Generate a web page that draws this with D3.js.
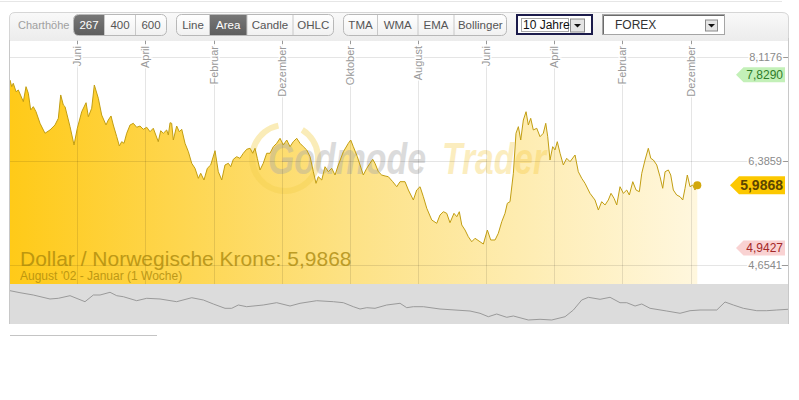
<!DOCTYPE html>
<html><head><meta charset="utf-8">
<script src="https://cdn.jsdelivr.net/npm/d3@7"></script>
<style>
body{margin:0;background:#fff;}
svg{display:block;font-family:"Liberation Sans",Arial,sans-serif;}
</style>
</head><body>
<svg id="c" width="799" height="400"></svg>
<script>
// ---- data ----
const years = [2002.594,2002.615,2002.634,2002.668,2002.696,2002.757,2002.790,2002.818,2002.847,2002.879,2002.912,2002.961,2003.022,2003.083,2003.144,2003.185,2003.214,2003.246,2003.267,2003.328,2003.377,2003.417,2003.471,2003.524,2003.552,2003.593,2003.625,2003.674,2003.715,2003.768,2003.796,2003.829,2003.857,2003.899,2003.931,2003.960,2003.988,2004.021,2004.062,2004.102,2004.143,2004.184,2004.224,2004.266,2004.306,2004.346,2004.407,2004.437,2004.469,2004.510,2004.530,2004.551,2004.571,2004.591,2004.632,2004.664,2004.694,2004.734,2004.775,2004.816,2004.856,2004.897,2004.926,2004.966,2005.007,2005.048,2005.101,2005.141,2005.183,2005.223,2005.264,2005.293,2005.325,2005.366,2005.406,2005.447,2005.488,2005.529,2005.562,2005.590,2005.618,2005.651,2005.691,2005.733,2005.773,2005.814,2005.855,2005.896,2005.936,2005.978,2006.018,2006.058,2006.100,2006.140,2006.181,2006.222,2006.263,2006.303,2006.336,2006.364,2006.406,2006.446,2006.486,2006.528,2006.568,2006.609,2006.670,2006.731,2006.760,2006.792,2006.841,2006.874,2006.914,2006.956,2006.996,2007.029,2007.057,2007.098,2007.139,2007.180,2007.220,2007.274,2007.323,2007.363,2007.424,2007.465,2007.526,2007.567,2007.608,2007.648,2007.690,2007.751,2007.812,2007.852,2007.893,2007.934,2007.974,2008.023,2008.057,2008.088,2008.118,2008.158,2008.198,2008.240,2008.280,2008.341,2008.382,2008.431,2008.472,2008.525,2008.565,2008.607,2008.647,2008.675,2008.708,2008.749,2008.781,2008.810,2008.839,2008.871,2008.904,2008.932,2008.961,2008.993,2009.035,2009.075,2009.115,2009.145,2009.169,2009.197,2009.230,2009.258,2009.286,2009.320,2009.360,2009.401,2009.442,2009.503,2009.543,2009.585,2009.625,2009.686,2009.747,2009.788,2009.829,2009.870,2009.910,2009.943,2009.980,2010.013,2010.053,2010.094,2010.135,2010.167,2010.209,2010.249,2010.289,2010.319,2010.359,2010.399,2010.429,2010.461,2010.502,2010.542,2010.575,2010.604,2010.644,2010.673,2010.705,2010.746,2010.787,2010.820,2010.848,2010.876,2010.909,2010.942,2010.970,2010.991,2010.998];
const rates = [7.740,7.629,7.685,7.545,7.574,7.379,7.629,7.519,7.241,7.296,7.212,7.019,6.853,6.908,6.991,7.102,7.491,7.324,7.296,6.963,6.658,6.936,7.212,7.362,7.129,7.269,7.657,7.436,7.157,6.991,7.074,7.141,6.991,6.796,6.641,6.713,6.686,6.853,6.991,7.019,6.953,6.974,6.919,6.953,6.879,6.936,6.713,6.896,6.853,6.908,6.824,7.029,7.019,6.741,6.974,6.879,6.919,6.686,6.546,6.353,6.270,6.103,6.187,6.075,6.270,6.325,6.563,6.213,6.075,6.325,6.353,6.296,6.420,6.463,6.436,6.520,6.586,6.603,6.520,6.603,6.436,6.242,6.353,6.520,6.520,6.630,6.686,6.769,6.658,6.741,6.630,6.713,6.769,6.686,6.630,6.575,6.463,6.213,6.020,6.130,6.075,6.296,6.213,6.270,6.158,6.325,6.546,6.686,6.741,6.630,6.463,6.325,6.158,6.270,6.353,6.420,6.353,6.213,6.158,6.142,6.130,6.047,5.963,6.047,6.047,5.908,5.742,5.908,5.963,5.797,5.604,5.409,5.354,5.492,5.547,5.520,5.364,5.520,5.464,5.547,5.326,5.242,5.131,5.047,5.104,5.047,5.009,5.242,5.076,5.076,5.187,5.381,5.520,5.687,5.714,6.187,6.853,6.963,6.741,7.074,7.212,6.991,7.102,6.908,6.936,6.796,6.853,7.019,6.796,6.408,6.630,6.575,6.713,6.520,6.325,6.436,6.380,6.491,6.213,6.103,6.020,5.853,5.742,5.575,5.714,5.659,5.742,5.853,5.770,5.659,5.963,5.853,5.908,5.825,6.047,5.908,5.880,6.187,6.408,6.603,6.436,6.408,6.325,6.130,5.937,6.213,6.242,6.158,5.908,5.825,5.797,5.742,5.937,6.158,5.963,5.992,5.908,5.992,5.9868];

const navYears = [2002.594,2002.716,2002.879,2003.083,2003.185,2003.328,2003.511,2003.613,2003.695,2003.817,2003.899,2003.980,2004.143,2004.266,2004.428,2004.632,2004.816,2004.958,2005.080,2005.223,2005.305,2005.386,2005.488,2005.691,2005.855,2006.018,2006.140,2006.344,2006.548,2006.670,2006.792,2006.874,2006.956,2007.057,2007.200,2007.363,2007.445,2007.526,2007.648,2007.852,2008.219,2008.341,2008.443,2008.545,2008.668,2008.749,2008.932,2009.075,2009.218,2009.381,2009.483,2009.585,2009.666,2009.809,2009.931,2010.053,2010.135,2010.237,2010.319,2010.420,2010.624,2010.787,2010.909,2011.032,2011.236,2011.337,2011.439,2011.561,2011.725,2011.847,2011.969,2012.107];
const navRates = [7.822,7.616,7.379,6.968,7.040,7.307,6.690,7.379,7.379,7.657,7.307,7.204,6.793,7.040,6.968,6.690,7.101,6.865,6.453,6.010,6.010,6.350,6.175,6.350,6.587,6.247,6.525,6.793,6.690,6.587,6.175,5.938,6.072,6.010,6.350,6.525,6.072,6.175,6.175,5.938,5.732,5.496,5.145,5.423,5.084,5.218,4.806,4.878,4.806,5.145,5.835,6.865,7.143,6.937,7.143,6.587,6.587,6.247,6.453,6.010,5.732,5.496,5.763,5.835,5.835,6.659,6.350,6.010,5.763,5.763,5.835,5.907];

const tickMonths = ["2003-06","2004-04","2005-02","2005-12","2006-10","2007-08","2008-06","2009-04","2010-02","2010-12"];
const tickLabels = ["Juni","April","Februar","Dezember","Oktober","August","Juni","April","Februar","Dezember"];
const yTickValues = [8.1176, 6.3859, 4.6541];
const highValue = 7.8290, lastValue = 5.9868, lowValue = 4.9427;
const domainStart = 2002.594, domainEnd = 2012.107;
const titleText = "Dollar / Norwegische Krone: ";
const subtitleText = "August '02 - Januar (1 Woche)";
const heightOptions = ["267","400","600"];
const typeOptions = ["Line","Area","Candle","OHLC"];
const indicatorOptions = ["TMA","WMA","EMA","Bollinger"];
const periodOption = "10 Jahre";
const marketOption = "FOREX";

// ---- setup ----
const svg = d3.select("#c");
const fmt = d3.formatLocale({decimal:",",thousands:".",grouping:[3],currency:["","€"]}).format(".4f");
const L = 10, R = 788, T = 40, B = 284;
const x = d3.scaleLinear().domain([domainStart, domainEnd]).range([L, R]);
const y = d3.scaleLinear().domain([4.6541, 8.1176]).range([265.33, 57.33]);
const yNav = d3.scaleLinear().domain([4.6, 8.1]).range([322, 288]);
const monthToYear = s => { const [a,b] = s.split("-").map(Number); return a + (b-1)/12; };
const data = years.map((t,i)=>({t, v:rates[i]}));
const nav = navYears.map((t,i)=>({t, v:navRates[i]}));

const defs = svg.append("defs");
const g1 = defs.append("linearGradient").attr("id","areaGrad").attr("gradientUnits","userSpaceOnUse")
  .attr("x1",x(years[0])).attr("x2",x(years[years.length-1])).attr("y1",0).attr("y2",0);
g1.append("stop").attr("offset",0).attr("stop-color","#ffca18");
g1.append("stop").attr("offset",0.5).attr("stop-color","#fde286");
g1.append("stop").attr("offset",1).attr("stop-color","#fff7de");
const g2 = defs.append("linearGradient").attr("id","barGrad").attr("x1",0).attr("x2",0).attr("y1",0).attr("y2",1);
g2.append("stop").attr("offset",0).attr("stop-color","#f9f9f9");
g2.append("stop").attr("offset",1).attr("stop-color","#ececec");
const g3 = defs.append("linearGradient").attr("id","btnGrad").attr("x1",0).attr("x2",0).attr("y1",0).attr("y2",1);
g3.append("stop").attr("offset",0).attr("stop-color","#ffffff");
g3.append("stop").attr("offset",1).attr("stop-color","#f1f1f1");
const g4 = defs.append("linearGradient").attr("id","selGrad").attr("x1",0).attr("x2",0).attr("y1",0).attr("y2",1);
g4.append("stop").attr("offset",0).attr("stop-color","#777");
g4.append("stop").attr("offset",1).attr("stop-color","#5e5e5e");

// top faint line
svg.append("line").attr("x1",0).attr("x2",782).attr("y1",1.5).attr("y2",1.5).attr("stroke","#e6e6e6");

// toolbar panel
svg.append("path").attr("d",`M${L-0.5},41 V18 Q${L-0.5},12.5 ${L+5},12.5 H${R-6} Q${R+0.5},12.5 ${R+0.5},18 V41`)
  .attr("fill","url(#barGrad)").attr("stroke","#d6d6d6");
svg.append("text").attr("x",18).attr("y",29).attr("font-size",11).attr("fill","#a0a0a0").text("Charthöhe");

function buttonGroup(labels, widths, x0, selected){
  const total = d3.sum(widths);
  const g = svg.append("g");
  g.append("rect").attr("x",x0+0.5).attr("y",14.5).attr("width",total).attr("height",21).attr("rx",5)
    .attr("fill","url(#btnGrad)").attr("stroke","#b8b8b8");
  let cx = x0;
  labels.forEach((lab,i)=>{
    const w = widths[i];
    if(i===selected){
      const isFirst = i===0;
      g.append("path").attr("d",
        isFirst ? `M${cx+0.5+5},15 H${cx+w} V35 H${cx+0.5+5} Q${cx+1},35 ${cx+1},30 V20 Q${cx+1},15 ${cx+6},15 Z`
                : `M${cx+0.5},15 H${cx+w+0.5} V35 H${cx+0.5} Z`)
        .attr("fill","url(#selGrad)");
    }
    if(i>0) g.append("line").attr("x1",cx+0.5).attr("x2",cx+0.5).attr("y1",15).attr("y2",35).attr("stroke","#c8c8c8");
    g.append("text").attr("x",cx+w/2+0.5).attr("y",29).attr("text-anchor","middle").attr("font-size",11.5)
      .attr("fill", i===selected ? "#fff" : "#555").text(lab);
    cx += w;
  });
}
buttonGroup(heightOptions,[31,31,31],73,0);
buttonGroup(typeOptions,[33,37.5,46,40.5],176,1);
buttonGroup(indicatorOptions,[34,40.5,36,52.5],343,-1);

// period select (focused)
svg.append("rect").attr("x",517).attr("y",15).attr("width",75).attr("height",19).attr("fill","#fff").attr("stroke","#1c1c4c").attr("stroke-width",2);
svg.append("rect").attr("x",521.5).attr("y",18.5).attr("width",47).attr("height",13).attr("fill","none").attr("stroke","#555").attr("stroke-dasharray","1,1");
svg.append("text").attr("x",523).attr("y",29).attr("font-size",12).attr("fill","#111").text(periodOption);
function arrowBtn(bx,by,w,h){
  svg.append("rect").attr("x",bx+0.5).attr("y",by+0.5).attr("width",w).attr("height",h).attr("fill","#e4e4e4").attr("stroke","#8a8a8a");
  const cx = bx + w/2 + 0.5, cy = by + h/2 + 0.5;
  svg.append("path").attr("d",`M${cx-3.5},${cy-1.5} H${cx+3.5} L${cx},${cy+2} Z`).attr("fill","#111");
}
arrowBtn(570,18.5,14,13);
// market select
svg.append("rect").attr("x",602.5).attr("y",14.5).attr("width",122).attr("height",20).attr("fill","#fff").attr("stroke","#a5a5a5");
svg.append("path").attr("d","M603.5,34 V15.5 H724").attr("fill","none").attr("stroke","#6b6b6b");
svg.append("text").attr("x",615).attr("y",29).attr("font-size",12).attr("fill","#333").text(marketOption);
arrowBtn(705,19.5,12,11);

// plot background
svg.append("rect").attr("x",L).attr("y",T+1).attr("width",R-L).attr("height",B-T-1).attr("fill","#fff");

// area
const area = d3.area().x(d=>x(d.t)).y0(B).y1(d=>y(d.v));
const line = d3.line().x(d=>x(d.t)).y(d=>y(d.v));
svg.append("path").datum(data).attr("d",area).attr("fill","url(#areaGrad)");

// watermark (horizontally condensed via scale so boxes match the drawn glyphs)
const wm = svg.append("g");
wm.append("path").attr("d", d3.arc().innerRadius(30).outerRadius(36).startAngle(0.55).endAngle(2*Math.PI-0.2)())
  .attr("transform","translate(285,158)").attr("fill","#f3cf4e").attr("opacity",0.4);
function wmText(str, x0, targetW, fill, op){
  const t = wm.append("text").attr("x",0).attr("y",0).attr("font-size",44).attr("font-weight","bold")
    .attr("font-style","italic").attr("fill",fill).attr("opacity",op).text(str);
  const w = t.node().getComputedTextLength();
  t.attr("transform",`translate(${x0},174) scale(${targetW/w},1)`);
}
wmText("Godmode",268,158,"#a8a8a8",0.4);
wmText("Trader",442,104,"#f5c430",0.3);

// gridlines (over area)
const grid = svg.append("g");
tickMonths.forEach(m=>{
  const gx = Math.round(x(monthToYear(m)))+0.5;
  grid.append("line").attr("x1",gx).attr("x2",gx).attr("y1",T).attr("y2",B).attr("stroke","#000").attr("stroke-opacity",0.1);
});
yTickValues.forEach(v=>{
  const gy = Math.round(y(v))+0.5;
  grid.append("line").attr("x1",L).attr("x2",R-6).attr("y1",gy).attr("y2",gy).attr("stroke","#000").attr("stroke-opacity",0.1);
});

// line + end dot
svg.append("path").datum(data).attr("d",line).attr("fill","none").attr("stroke","#c29e12").attr("stroke-width",1);
const last = data[data.length-1];
svg.append("circle").attr("cx",x(last.t)).attr("cy",y(last.v)).attr("r",4).attr("fill","#d2a80c");

// x labels (rotated)
tickMonths.forEach((m,i)=>{
  const gx = Math.round(x(monthToYear(m)))+0.5;
  svg.append("line").attr("x1",gx).attr("x2",gx).attr("y1",T+1).attr("y2",T+4).attr("stroke","#999");
  svg.append("text").attr("transform",`translate(${gx},${T+6}) rotate(-90)`).attr("text-anchor","end")
    .attr("dy","0.36em").attr("font-size",11).attr("fill","#999")
    .attr("stroke","#fff").attr("stroke-width",3).attr("paint-order","stroke").text(tickLabels[i]);
});

// y tick labels
yTickValues.forEach(v=>{
  const gy = Math.round(y(v))+0.5;
  svg.append("line").attr("x1",R-6).attr("x2",R).attr("y1",gy).attr("y2",gy).attr("stroke","#999");
  svg.append("text").attr("x",R-6).attr("y",gy).attr("dy","0.35em").attr("text-anchor","end")
    .attr("font-size",11).attr("fill","#8a8a8a").attr("stroke","#fff").attr("stroke-width",3).attr("paint-order","stroke").text(fmt(v));
});

// price tags
function tag(v, tipX, h, fill, col, fs, bold){
  const cy = y(v), right = R-3;
  svg.append("path").attr("d",`M${tipX},${cy} L${tipX+h/2},${cy-h/2} H${right} V${cy+h/2} H${tipX+h/2} Z`).attr("fill",fill);
  svg.append("text").attr("x",right-2).attr("y",cy).attr("dy","0.36em").attr("text-anchor","end")
    .attr("font-size",fs).attr("font-weight",bold?"bold":"normal").attr("fill",col).text(fmt(v));
}
tag(highValue,736,15,"#c3f0b8","#2f7d2a",12,false);
tag(lastValue,730,18,"#fcc800","#5c4600",14,true);
tag(lowValue,736,15,"#f9d2d2","#a42828",12,false);

// title overlay
svg.append("text").attr("x",20).attr("y",266).attr("font-size",21).attr("fill","#a8860a").attr("opacity",0.75)
  .text(titleText + fmt(lastValue));
svg.append("text").attr("x",20).attr("y",280).attr("font-size",12).attr("fill","#a8860a").attr("opacity",0.75).text(subtitleText);

// navigator
svg.append("rect").attr("x",L).attr("y",B).attr("width",R-L).attr("height",40).attr("fill","#dcdcdc");
svg.append("path").datum(nav).attr("d",d3.line().x(d=>x(d.t)).y(d=>yNav(d.v))).attr("fill","none").attr("stroke","#9a9a9a").attr("stroke-width",1);

// borders
svg.append("line").attr("x1",L-0.5).attr("x2",L-0.5).attr("y1",T).attr("y2",B+40).attr("stroke","#c8c8c8");
svg.append("line").attr("x1",R+0.5).attr("x2",R+0.5).attr("y1",T-2).attr("y2",B+40).attr("stroke","#c8c8c8");
svg.append("line").attr("x1",L).attr("x2",157).attr("y1",335.5).attr("y2",335.5).attr("stroke","#c4c4c4");
</script>
</body></html>
